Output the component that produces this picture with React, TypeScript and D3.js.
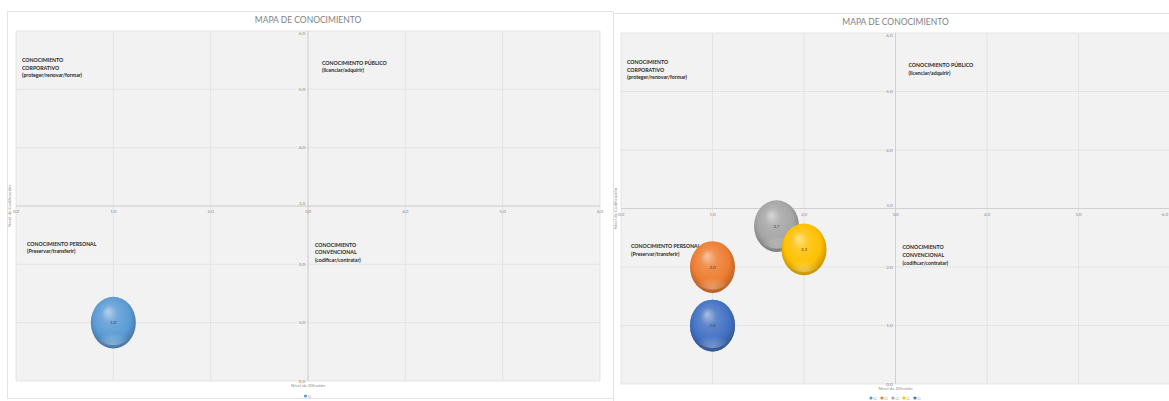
import React from 'react';
import * as d3 from 'd3';

// Axis ticks shared by both maps (0..6 on each axis, axes crossing at 3)
const xTicks = [0, 1, 2, 3, 4, 5, 6];
const yTicks = [0, 1, 2, 3, 4, 5, 6];
const axisCross = 3;

const chartTitle = 'MAPA DE CONOCIMIENTO';
const xAxisTitle = 'Nivel de Difusión';
const yAxisTitle = 'Nivel de Codificación';

// Map 1: a single bubble
const leftNames = ['□'];
const leftX = [1.0];
const leftY = [1.0];
const leftSize = [1];
const leftColors = ['#5b9bd5'];

// Map 2: five series
const rightNames = ['□', '□', '□', '□', '□'];
const rightX = [1.0, 1.0, 1.7, 2.0, 1.0];
const rightY = [1.0, 2.0, 2.7, 2.3, 1.0];
const rightSize = [1, 1, 1, 1, 1];
const rightColors = ['#5b9bd5', '#ed7d31', '#a5a5a5', '#ffc000', '#4472c4'];

// Quadrant captions
const quadrants = [
  { key: 'corp', lines: ['CONOCIMIENTO', 'CORPORATIVO', '(proteger/renovar/formar)'], y: 5.47 },
  { key: 'pub', lines: ['CONOCIMIENTO PÚBLICO', '(licenciar/adquirir)'], y: 5.42 },
  { key: 'pers', lines: ['CONOCIMIENTO PERSONAL', '(Preservar/transferir)'], y: 2.32 },
  { key: 'conv', lines: ['CONOCIMIENTO', 'CONVENCIONAL', '(codificar/contratar)'], y: 2.3 },
];

const fmt = (v: number) => d3.format('.1f')(v).replace('.', ',');
const FONT = 'Lato, "Open Sans", sans-serif';
const PAGE_W = 1169;

type Frame = {
  id: string;
  bx0: number; bx1: number; by0: number; by1: number;
  pl: number; pr: number; pt: number; pb: number;
  titleY: number;
  legendY: number;
  quadX: Record<string, [string, number]>;
};

function Chart(props: {
  frame: Frame;
  names: string[];
  xs: number[];
  ys: number[];
  sizes: number[];
  colors: string[];
}) {
  const { frame: f, names, xs, ys, sizes, colors } = props;
  const x = d3.scaleLinear().domain([0, 6]).range([f.pl, f.pr]);
  const y = d3.scaleLinear().domain([0, 6]).range([f.pb, f.pt]);
  const r = d3.scaleSqrt().domain([0, d3.max(sizes) as number]).range([0, 22.5]);
  const ax = x(axisCross);
  const ay = y(axisCross);
  const cx = ax;

  const legendStep = 11;
  const legendW = names.length * legendStep - 3;
  const legendX0 = cx - legendW / 2;

  return (
    <g>
      <defs>
        {colors.map((c, i) => {
          const base = d3.color(c) as d3.RGBColor;
          return (
            <radialGradient key={i} id={`${f.id}-g${i}`} cx="50%" cy="45%" r="58%" fx="38%" fy="28%">
              <stop offset="0%" stopColor={d3.interpolateRgb(c, '#ffffff')(0.55)} />
              <stop offset="30%" stopColor={d3.interpolateRgb(c, '#ffffff')(0.15)} />
              <stop offset="70%" stopColor={base.formatHex()} />
              <stop offset="100%" stopColor={base.darker(0.9).formatHex()} />
            </radialGradient>
          );
        })}
        <radialGradient id={`${f.id}-refl`} cx="50%" cy="100%" r="60%">
          <stop offset="0%" stopColor="#ffffff" stopOpacity={0.35} />
          <stop offset="100%" stopColor="#ffffff" stopOpacity={0} />
        </radialGradient>
        <clipPath id={`${f.id}-clip`}>
          <rect x={f.bx0} y={f.by0} width={f.bx1 - f.bx0} height={f.by1 - f.by0} />
        </clipPath>
      </defs>

      <g clipPath={`url(#${f.id}-clip)`}>
        <rect x={f.bx0 + 0.5} y={f.by0 + 0.5} width={f.bx1 - f.bx0 - 1} height={f.by1 - f.by0 - 1}
          fill="#ffffff" stroke="#e3e3e3" strokeWidth={1} />

        <text x={cx} y={f.titleY} textAnchor="middle" fontFamily={FONT} fontSize={8.5} fill="#7f7f7f">
          {chartTitle}
        </text>

        {/* plot area */}
        <rect x={f.pl} y={f.pt} width={f.pr - f.pl} height={f.pb - f.pt} fill="#f2f2f2" />
        {xTicks.map((t) => (
          <line key={`vx${t}`} x1={x(t)} x2={x(t)} y1={f.pt} y2={f.pb} stroke="#e0e0e0" strokeWidth={0.8} />
        ))}
        {yTicks.map((t) => (
          <line key={`hy${t}`} x1={f.pl} x2={f.pr} y1={y(t)} y2={y(t)} stroke="#e0e0e0" strokeWidth={0.8} />
        ))}
        <line x1={ax} x2={ax} y1={f.pt} y2={f.pb} stroke="#cccccc" strokeWidth={0.8} />
        <line x1={f.pl} x2={f.pr} y1={ay} y2={ay} stroke="#cccccc" strokeWidth={0.8} />

        {/* tick labels */}
        {xTicks.map((t) => {
          const atEdge = x(t) + 4 > PAGE_W;
          return (
            <text key={`xl${t}`} x={atEdge ? PAGE_W - 1 : x(t)} y={ay + 7} textAnchor={atEdge ? 'end' : 'middle'}
              fontFamily={FONT} fontSize={4.5} fill="#8c8c8c">
              {fmt(t)}
            </text>
          );
        })}
        {yTicks.map((t) => (
          <text key={`yl${t}`} x={ax - 3} y={t === 6 ? y(t) + 4 : t === axisCross ? y(t) - 1.5 : y(t) + 1.5}
            textAnchor="end" fontFamily={FONT} fontSize={4.5} fill="#8c8c8c">
            {fmt(t)}
          </text>
        ))}

        {/* axis titles */}
        <text x={cx} y={f.pb + 6} textAnchor="middle" fontFamily={FONT} fontSize={4.5} fill="#8c8c8c">
          {xAxisTitle}
        </text>
        <text transform={`translate(${f.bx0 + 3.5},${ay}) rotate(-90)`} textAnchor="middle"
          fontFamily={FONT} fontSize={4.5} fill="#8c8c8c">
          {yAxisTitle}
        </text>

        {/* quadrant captions */}
        {quadrants.map((q) => {
          const [anchor, dx] = f.quadX[q.key];
          const x0 = (anchor === 'left' ? f.pl : ax) + dx;
          return (
            <text key={q.key} x={x0} y={y(q.y)} fontFamily={FONT} fontSize={5.2} fontWeight={700} fill="#262626">
              {q.lines.map((l, i) => (
                <tspan key={i} x={x0} dy={i === 0 ? 0 : 7.6}>{l}</tspan>
              ))}
            </text>
          );
        })}

        {/* bubbles */}
        {xs.map((v, i) => {
          const rr = r(sizes[i]);
          return (
            <g key={`b${i}`}>
              <ellipse cx={x(v)} cy={y(ys[i])} rx={rr} ry={rr * 1.15} fill={`url(#${f.id}-g${i})`} />
              <ellipse cx={x(v)} cy={y(ys[i]) + rr * 0.55} rx={rr * 0.7} ry={rr * 0.45} fill={`url(#${f.id}-refl)`} />
              <text x={x(v)} y={y(ys[i]) + 1.6} textAnchor="middle" fontFamily={FONT} fontSize={4.5} fill="#404040">
                {fmt(ys[i])}
              </text>
            </g>
          );
        })}

        {/* legend */}
        {names.map((n, i) => (
          <g key={`lg${i}`} transform={`translate(${legendX0 + i * legendStep},${f.legendY})`}>
            <circle cx={1.5} cy={0} r={1.6} fill={colors[i]} />
            <text x={4} y={2} fontFamily={FONT} fontSize={5} fill="#8c8c8c">{n}</text>
          </g>
        ))}
      </g>
    </g>
  );
}

const leftFrame: Frame = {
  id: 'm1',
  bx0: 7, bx1: 614, by0: 11, by1: 399,
  pl: 16, pr: 600, pt: 31, pb: 381,
  titleY: 23, legendY: 396,
  quadX: { corp: ['left', 6], pub: ['axis', 14], pers: ['left', 11], conv: ['axis', 7] },
};

const rightFrame: Frame = {
  id: 'm2',
  bx0: 613, bx1: 1180, by0: 13, by1: 410,
  pl: 621, pr: 1170, pt: 33, pb: 384,
  titleY: 25, legendY: 398,
  quadX: { corp: ['left', 6], pub: ['axis', 13], pers: ['left', 10], conv: ['axis', 7] },
};

export default function App() {
  return (
    <div style={{ position: 'absolute', left: 0, top: 0, width: PAGE_W, height: 401, overflow: 'hidden', background: '#fff' }}>
      <svg width={PAGE_W} height={401} style={{ display: 'block' }}>
        <rect width={PAGE_W} height={401} fill="#ffffff" />
        <Chart frame={leftFrame} names={leftNames} xs={leftX} ys={leftY} sizes={leftSize} colors={leftColors} />
        <Chart frame={rightFrame} names={rightNames} xs={rightX} ys={rightY} sizes={rightSize} colors={rightColors} />
      </svg>
    </div>
  );
}
